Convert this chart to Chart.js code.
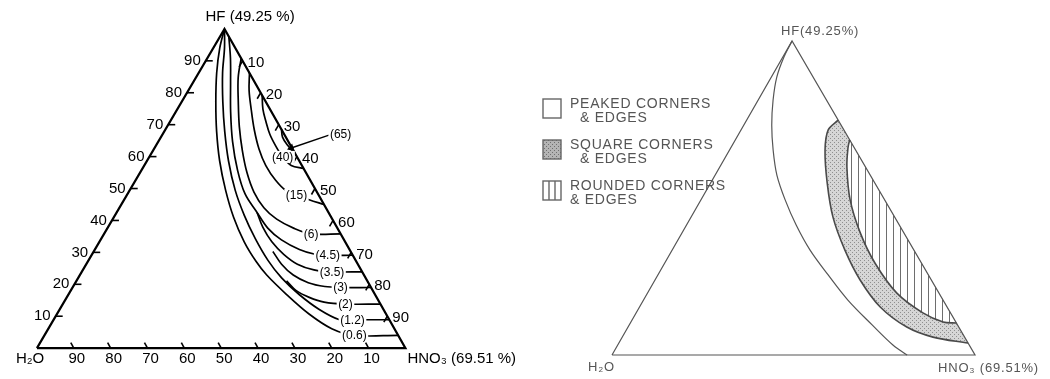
<!DOCTYPE html>
<html lang="en">
<head>
<meta charset="utf-8">
<title>HF - HNO3 - H2O etch diagrams</title>
<script src="https://cdn.jsdelivr.net/npm/chart.js@4.4.1/dist/chart.umd.min.js"></script>
<style>
  html, body { margin: 0; padding: 0; background: #fff; }
  body { position: relative; width: 1050px; height: 379px; overflow: hidden; }
  .pane { position: absolute; top: 0; height: 379px; }
  #etchPane  { left: 0;     width: 520px; }
  #shapePane { left: 480px; width: 570px; }
</style>
</head>
<body>
<div class="pane" id="etchPane"><canvas id="etchChart"></canvas></div>
<div class="pane" id="shapePane"><canvas id="shapeChart"></canvas></div>
<script>
/* Compositions are [HF %, HNO3 %]; the balance is H2O. */
const TICKS   = [10, 20, 30, 40, 50, 60, 70, 80, 90];
const CORNERS = [[0, 0], [0, 100], [100, 0], [0, 0]];

/* ---- iso-etch curves (rate in mils/min) ---- */
const RATE_LABELS = ['(0.6)', '(1.2)', '(2)', '(3)', '(3.5)', '(4.5)', '(6)', '(15)', '(40)', '(65)'];
const RATE_06 = [[100, 0], [93.9, 1.8], [86.2, 4.9], [77.1, 9.3], [67.9, 14.2], [58.7, 19.7], [49.5, 26.0], [41.0, 32.5],
                 [33.3, 39.3], [27.2, 45.6], [22.9, 50.7], [16.8, 59.2], [10.7, 68.4], [6.1, 76.9], [4.0, 84.1], [4.0, 96.0]];
const RATE_12 = [[100, 0], [93.9, 3.1], [86.2, 6.5], [77.1, 11.2], [67.9, 16.4], [58.7, 22.1], [49.5, 28.6], [41.6, 35.1],
                 [34.3, 41.8], [27.5, 48.7], [22.0, 55.2], [16.8, 62.6], [12.2, 70.3], [8.9, 77.6], [8.9, 81.1], [8.9, 91.1]];
const RATE_2  = [[21.1, 57.0], [18.0, 61.2], [15.9, 65.8], [14.4, 70.6], [13.8, 76.7], [13.8, 86.2]];
const RATE_3  = [[30.3, 48.6], [26.3, 53.0], [22.9, 57.9], [20.5, 63.2], [19.3, 68.3], [19.0, 72.7], [19.0, 81.0]];
const RATE_35 = [[42.5, 38.1], [37.9, 42.0], [33.3, 46.8], [29.4, 52.0], [26.3, 57.3], [24.5, 62.7], [23.9, 67.9], [23.9, 76.1]];
const RATE_45 = [[97.6, 2.4], [90.8, 6.3], [83.2, 10.2], [74.0, 14.9], [64.8, 20.1], [55.7, 26.1], [48.3, 31.9], [42.5, 38.1],
                 [37.6, 43.5], [33.9, 49.1], [30.9, 55.5], [29.4, 60.5], [29.1, 64.1], [29.1, 70.9]];
const RATE_6  = [[90.8, 9.2], [84.7, 11.5], [77.1, 15.4], [69.4, 19.6], [61.8, 24.3], [55.0, 29.0], [48.9, 34.0], [44.0, 39.2],
                 [40.4, 44.5], [37.6, 50.5], [35.8, 56.2], [35.8, 64.2]];
const RATE_15 = [[86.2, 13.8], [80.7, 16.5], [74.6, 20.2], [68.5, 24.1], [62.4, 28.5], [57.2, 33.0], [52.6, 38.0], [49.2, 42.7],
                 [48.0, 46.0], [46.5, 50.2], [45.0, 55.0]];
const RATE_40 = [[79.2, 20.8], [74.9, 23.2], [71.0, 26.0], [67.0, 29.1], [63.3, 32.6], [59.9, 36.2], [57.2, 39.9], [56.3, 43.7]];
const RATE_65 = [[68.5, 31.5], [66.1, 33.0], [63.6, 35.6], [61.8, 37.9], [60.9, 39.1]];
const RATE_CURVES = [RATE_06, RATE_12, RATE_2, RATE_3, RATE_35, RATE_45, RATE_6, RATE_15, RATE_40, RATE_65];
// where each rate label sits (same order as RATE_LABELS)
const LABEL_AT  = [[4.0, 84.1], [8.9, 81.1], [13.8, 76.7], [19.0, 72.7], [23.9, 67.9], [29.1, 64.1], [35.8, 56.2],
                   [48.0, 46.0], [59.9, 36.2], [67.0, 48.3]];
const LEADER_65 = [[66.7, 45.3], [62.7, 37.1]];

/* ---- surface shape regions ---- */
const PEAK_LIMIT   = [[100, 0], [94.9, 0.3], [88.5, 1.5], [81.2, 4.1], [73.2, 7.7], [65.3, 12.0], [57.3, 17.0], [49.4, 23.2],
                      [41.4, 30.2], [33.4, 38.0], [25.5, 46.9], [17.5, 56.3], [9.6, 66.9], [3.2, 75.8], [0, 81.3]];
const SQUARE_OUTER = [[74.8, 25.2], [71.7, 24.0], [65.3, 26.3], [54.8, 32.1], [43.9, 39.1], [33.4, 47.6], [23.9, 56.5],
                      [15.3, 66.3], [8.9, 76.8], [5.7, 85.6], [3.8, 96.2]];
const ROUND_INNER  = [[68.5, 31.5], [66.2, 32.2], [59.9, 35.0], [49.4, 41.1], [38.9, 49.1], [29.3, 57.9], [19.7, 68.7],
                      [13.4, 79.0], [10.5, 86.0], [10.2, 89.8]];
const SHAPE_NAMES  = ['PEAKED CORNERS', 'SQUARE CORNERS', 'ROUNDED CORNERS'];

const LEFT_SKEW  = 0.509;   // apex of the left triangle sits slightly right of centre
const RIGHT_SKEW = 0.496;
const INK  = '#000';
const GREY = '#555';
const FONT = '"Liberation Sans", Arial, sans-serif';

function ternary(skew) {
  return ([hf, hno3]) => ({ x: hno3 + skew * hf, y: hf });
}

function lineSet(points, skew, extra) {
  return Object.assign({
    data: points.map(ternary(skew)),
    borderColor: INK,
    borderWidth: 1.7,
    tension: 0.35,
    pointRadius: 0,
    fill: false
  }, extra);
}

// value ranges so that 0..100 lands on the given pixel box of the canvas
function frame(width, height, left, right, base, apex) {
  const sx = (right - left) / 100, sy = (base - apex) / 100;
  return { x: [-left / sx, (width - left) / sx], y: [-(height - base) / sy, base / sy] };
}

function chartOptions(fr) {
  return {
    responsive: true,
    maintainAspectRatio: false,
    animation: false,
    events: [],
    layout: { padding: 0 },
    plugins: { legend: { display: false }, tooltip: { enabled: false } },
    scales: {
      x: { type: 'linear', display: false, min: fr.x[0], max: fr.x[1] },
      y: { type: 'linear', display: false, min: fr.y[0], max: fr.y[1] }
    }
  };
}

function pixelAt(chart, skew, hf, hno3) {
  return {
    x: chart.scales.x.getPixelForValue(hno3 + skew * hf),
    y: chart.scales.y.getPixelForValue(hf)
  };
}

function seg(ctx, x1, y1, x2, y2) {
  ctx.beginPath(); ctx.moveTo(x1, y1); ctx.lineTo(x2, y2); ctx.stroke();
}

function text(ctx, s, x, y, align) {
  ctx.textAlign = align || 'left';
  ctx.textBaseline = 'middle';
  ctx.fillText(s, x, y);
}

/* ---- left: iso-etch curves ---- */
const etchMarks = {
  id: 'etchMarks',
  afterDatasetsDraw(chart) {
    const ctx = chart.ctx;
    const at = (hf, hno3) => pixelAt(chart, LEFT_SKEW, hf, hno3);
    ctx.save();
    ctx.strokeStyle = INK;
    ctx.fillStyle = INK;
    ctx.lineWidth = 1.6;
    ctx.font = '15px ' + FONT;
    TICKS.forEach(t => {
      let p = at(t, 0);                 // HF along the left side
      seg(ctx, p.x, p.y, p.x + 7, p.y);
      text(ctx, String(t), p.x - 5, p.y, 'right');
      p = at(100 - t, t);               // HNO3 along the right side
      seg(ctx, p.x, p.y, p.x - 3.5, p.y + 6);
      text(ctx, String(t), p.x + 5, p.y + 2, 'left');
      p = at(0, 100 - t);               // H2O along the base
      seg(ctx, p.x, p.y, p.x - 3, p.y - 5.5);
      text(ctx, String(t), p.x + 3, p.y + 11, 'center');
    });

    ctx.font = '12px ' + FONT;
    RATE_LABELS.forEach((s, i) => {
      const p = at(LABEL_AT[i][0], LABEL_AT[i][1]);
      const w = ctx.measureText(s).width;
      ctx.fillStyle = '#fff';
      ctx.fillRect(p.x - w / 2 - 1.5, p.y - 6, w + 3, 12);
      ctx.fillStyle = INK;
      text(ctx, s, p.x, p.y + 0.5, 'center');
    });

    ctx.font = '15px ' + FONT;
    const top = at(100, 0), h2o = at(0, 0), hno3 = at(0, 100);
    text(ctx, 'HF (49.25 %)', top.x - 19, top.y - 12, 'left');
    text(ctx, 'H\u2082O', h2o.x - 21, h2o.y + 11, 'left');
    text(ctx, 'HNO\u2083 (69.51 %)', hno3.x + 2, hno3.y + 11, 'left');
    ctx.restore();
  }
};

new Chart(document.getElementById('etchChart'), {
  type: 'line',
  data: {
    datasets: [
      lineSet(CORNERS, LEFT_SKEW, { borderWidth: 2.2, tension: 0 }),
      ...RATE_CURVES.map(c => lineSet(c, LEFT_SKEW)),
      lineSet(LEADER_65, LEFT_SKEW, {
        tension: 0, borderWidth: 1.4,
        pointRadius: [0, 4.5], pointStyle: 'triangle', pointRotation: 251,
        pointBackgroundColor: INK, pointBorderColor: INK, pointBorderWidth: 0
      })
    ]
  },
  options: chartOptions(frame(520, 379, 33, 408, 352, 25)),
  plugins: [etchMarks]
});

/* ---- right: corner / edge shape regions ---- */
function tile(ctx, w, h, paint) {
  const c = document.createElement('canvas');
  c.width = w; c.height = h;
  paint(c.getContext('2d'));
  return ctx.createPattern(c, 'repeat');
}

function stipple(ctx, bg, dot) {
  return tile(ctx, 4, 4, g => {
    g.fillStyle = bg; g.fillRect(0, 0, 4, 4);
    g.fillStyle = dot; g.fillRect(0, 0, 1, 1); g.fillRect(2, 2, 1, 1);
  });
}

function hatch(ctx) {
  return tile(ctx, 7, 4, g => {
    g.fillStyle = '#6e6e6e'; g.fillRect(0, 0, 1, 4);
  });
}

const shapeMarks = {
  id: 'shapeMarks',
  beforeDatasetsDraw(chart) {
    const ctx = chart.ctx;
    const fills = { stipple: stipple(ctx, '#d6d6d6', '#8f8f8f'), hatch: hatch(ctx) };
    chart.data.datasets.forEach((ds, i) => {
      if (!ds.areaFill) return;
      const line = chart.getDatasetMeta(i).dataset;
      line.updateControlPoints(chart.chartArea, 'x');
      ctx.save();
      ctx.beginPath();
      line.path(ctx);
      ctx.closePath();
      ctx.fillStyle = '#fff';
      ctx.fill();
      ctx.fillStyle = fills[ds.areaFill];
      ctx.fill();
      ctx.restore();
    });
  },
  afterDatasetsDraw(chart) {
    const ctx = chart.ctx;
    const at = (hf, hno3) => pixelAt(chart, RIGHT_SKEW, hf, hno3);
    ctx.save();
    ctx.fillStyle = GREY;
    ctx.strokeStyle = '#666';
    ctx.lineWidth = 1.4;

    // key boxes
    const boxX = 63, boxW = 18, boxH = 19;
    const boxTop = [99, 140, 181];
    const boxFill = [null, stipple(ctx, '#b4b4b4', '#6f6f6f'), null];
    boxTop.forEach((y, i) => {
      ctx.fillStyle = boxFill[i] || '#fff';
      ctx.fillRect(boxX, y, boxW, boxH);
      ctx.strokeRect(boxX, y, boxW, boxH);
      if (i === 2) {
        seg(ctx, boxX + boxW / 3, y, boxX + boxW / 3, y + boxH);
        seg(ctx, boxX + 2 * boxW / 3, y, boxX + 2 * boxW / 3, y + boxH);
      }
    });

    ctx.fillStyle = GREY;
    ctx.font = '14px ' + FONT;
    ctx.letterSpacing = '0.75px';
    SHAPE_NAMES.forEach((s, i) => {
      const y = boxTop[i] + 5;
      text(ctx, s, boxX + 27, y, 'left');
      text(ctx, '& EDGES', boxX + (i === 2 ? 27 : 37), y + 14, 'left');
    });

    ctx.font = '13px ' + FONT;
    ctx.letterSpacing = '0.8px';
    const top = at(100, 0), h2o = at(0, 0), hno3 = at(0, 100);
    text(ctx, 'HF(49.25%)', top.x - 11, top.y - 10, 'left');
    text(ctx, 'H\u2082O', h2o.x - 24, h2o.y + 12, 'left');
    text(ctx, 'HNO\u2083 (69.51%)', hno3.x - 37, hno3.y + 13, 'left');
    ctx.restore();
  }
};

new Chart(document.getElementById('shapeChart'), {
  type: 'line',
  data: {
    datasets: [
      lineSet(SQUARE_OUTER, RIGHT_SKEW, { borderColor: '#4a4a4a', borderWidth: 1.6, areaFill: 'stipple' }),
      lineSet(ROUND_INNER, RIGHT_SKEW, { borderColor: '#4a4a4a', borderWidth: 1.6, areaFill: 'hatch' }),
      lineSet(PEAK_LIMIT, RIGHT_SKEW, { borderColor: GREY, borderWidth: 1.2 }),
      lineSet(CORNERS, RIGHT_SKEW, { borderColor: GREY, borderWidth: 1.2, tension: 0 })
    ]
  },
  options: chartOptions(frame(570, 379, 132, 495, 355, 41)),
  plugins: [shapeMarks]
});
</script>
</body>
</html>
